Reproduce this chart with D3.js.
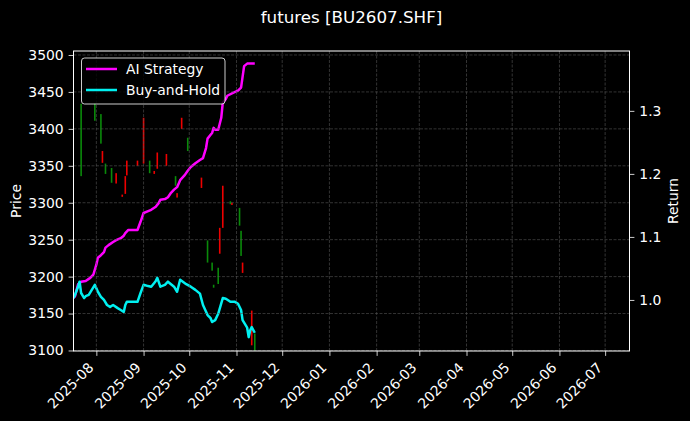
<!DOCTYPE html>
<html>
<head>
<meta charset="utf-8">
<script src="https://cdn.jsdelivr.net/npm/d3@7"></script>
<style>
  body { margin: 0; background: #000; }
  svg { display: block; }
  text { font-family: "DejaVu Sans", sans-serif; fill: #fff; }
</style>
</head>
<body>
<svg id="chart"></svg>
<script>
// candles (price axis)
var candleDates = ['2025-07-22','2025-07-31','2025-08-04','2025-08-05','2025-08-07','2025-08-11','2025-08-14',
  '2025-08-18','2025-08-20','2025-08-21','2025-08-28','2025-09-01','2025-09-05','2025-09-08','2025-09-10',
  '2025-09-16','2025-09-22','2025-09-23','2025-09-26','2025-09-30','2025-10-09','2025-10-13','2025-10-16',
  '2025-10-17','2025-10-20','2025-10-21','2025-10-23','2025-10-28','2025-10-29','2025-11-03','2025-11-04',
  '2025-11-05','2025-11-11','2025-11-13']
var candleOpen = [3336,3411,3380,3370,3339,3327,3340,3311,3336,3357,3357,3415,3340,3343,3368,
  3366,3323,3313,3415,3370,3334,3219,3208,3185,3190,3266,3323,3298,3300,3269,3228,3219,3154,3093]
var candleClose = [3434,3435,3420,3354,3353,3347,3326,3308,3312,3337,3350,3353,3357,3339,3346,
  3350,3336,3307,3400,3388,3320,3249,3219,3189,3212,3231,3266,3302,3297,3293,3262,3205,3107,3123]

// strategy curves (return axis)
var aiDates = ['2025-07-17','2025-07-18','2025-07-20','2025-07-22','2025-07-25','2025-07-28','2025-07-30',
  '2025-08-01','2025-08-02','2025-08-04','2025-08-06','2025-08-07','2025-08-09','2025-08-12','2025-08-14',
  '2025-08-17','2025-08-19','2025-08-20','2025-08-22','2025-08-25','2025-08-28','2025-08-30','2025-09-01',
  '2025-09-04','2025-09-06','2025-09-09','2025-09-11','2025-09-12','2025-09-15','2025-09-17','2025-09-19',
  '2025-09-21','2025-09-23','2025-09-25','2025-09-28','2025-09-30','2025-10-02','2025-10-05','2025-10-08',
  '2025-10-10','2025-10-12','2025-10-13','2025-10-15','2025-10-16','2025-10-17','2025-10-18','2025-10-20',
  '2025-10-22','2025-10-23','2025-10-25','2025-10-26','2025-10-30','2025-11-02','2025-11-04','2025-11-06',
  '2025-11-08','2025-11-13']
var aiValues = [1.003,1.006,1.025,1.029,1.030,1.035,1.040,1.056,1.067,1.071,1.076,1.083,1.087,1.092,1.095,
  1.098,1.102,1.106,1.111,1.111,1.111,1.124,1.138,1.141,1.143,1.148,1.154,1.159,1.160,1.163,1.170,
  1.175,1.179,1.190,1.198,1.205,1.211,1.217,1.222,1.225,1.241,1.256,1.262,1.265,1.273,1.270,1.270,
  1.289,1.313,1.319,1.324,1.329,1.332,1.337,1.371,1.375,1.375]

var bhDates = ['2025-07-17','2025-07-18','2025-07-20','2025-07-21','2025-07-22','2025-07-24','2025-07-25',
  '2025-07-27','2025-07-29','2025-07-31','2025-08-02','2025-08-04','2025-08-06','2025-08-08','2025-08-10',
  '2025-08-12','2025-08-15','2025-08-17','2025-08-19','2025-08-20','2025-08-21','2025-08-25','2025-08-28',
  '2025-08-30','2025-09-01','2025-09-04','2025-09-06','2025-09-08','2025-09-09','2025-09-10','2025-09-12',
  '2025-09-15','2025-09-17','2025-09-19','2025-09-21','2025-09-23','2025-09-25','2025-09-29','2025-10-02',
  '2025-10-05','2025-10-08','2025-10-10','2025-10-13','2025-10-15','2025-10-16','2025-10-18','2025-10-20',
  '2025-10-23','2025-10-25','2025-10-28','2025-10-31','2025-11-02','2025-11-04','2025-11-05','2025-11-08',
  '2025-11-09','2025-11-10','2025-11-11','2025-11-13']
var bhValues = [1.003,1.008,1.021,1.029,1.011,1.003,1.006,1.008,1.016,1.024,1.013,1.005,1.000,0.992,0.989,
  0.992,0.987,0.984,0.981,0.992,0.997,0.997,0.997,1.011,1.024,1.022,1.021,1.027,1.030,1.035,1.021,
  1.024,1.029,1.025,1.021,1.013,1.032,1.025,1.021,1.016,1.010,0.992,0.976,0.971,0.965,0.968,0.978,
  1.003,1.002,0.997,0.997,0.994,0.984,0.968,0.956,0.941,0.952,0.957,0.948]

var priceTicks = [3100,3150,3200,3250,3300,3350,3400,3450,3500]
var returnTicks = [1.0,1.1,1.2,1.3]
var monthTicks = ['2025-08','2025-09','2025-10','2025-11','2025-12','2026-01','2026-02',
  '2026-03','2026-04','2026-05','2026-06','2026-07']

var W = 690, H = 421
var pLeft = 73.5, pRight = 629.5, pTop = 51, pBottom = 351
var parse = d3.timeParse('%Y-%m-%d')
var parseMonth = d3.timeParse('%Y-%m')

var svg = d3.select('#chart').attr('width', W).attr('height', H)
svg.append('rect').attr('width', W).attr('height', H).attr('fill', '#000')

var x = d3.scaleTime()
    .domain([parse('2025-07-17'), parse('2026-07-17')])
    .range([pLeft, pRight])
var yPrice = d3.scaleLinear().domain([3099.3, 3505.4]).range([pBottom, pTop])
var yRet = d3.scaleLinear().domain([0.919, 1.395]).range([pBottom, pTop])

svg.append('clipPath').attr('id', 'plotclip')
  .append('rect').attr('x', pLeft).attr('y', pTop)
  .attr('width', pRight - pLeft).attr('height', pBottom - pTop)

var plot = svg.append('g').attr('clip-path', 'url(#plotclip)')

// candles
var candles = candleDates.map(function (d, i) {
  return { date: parse(d), open: candleOpen[i], close: candleClose[i] }
})
plot.selectAll('rect.candle')
    .data(candles)
  .enter().append('rect')
    .attr('class', 'candle')
    .attr('x', function (d) { return x(d.date) - 0.8 })
    .attr('width', 1.6)
    .attr('y', function (d) { return yPrice(Math.max(d.open, d.close)) })
    .attr('height', function (d) { return Math.abs(yPrice(d.open) - yPrice(d.close)) })
    .attr('fill', function (d) { return d.close >= d.open ? '#0a8a0a' : '#ee0000' })

// grid
var grid = svg.append('g')
grid.selectAll('line.vg')
    .data(monthTicks)
  .enter().append('line')
    .attr('x1', function (d) { return x(parseMonth(d)) })
    .attr('x2', function (d) { return x(parseMonth(d)) })
    .attr('y1', pTop).attr('y2', pBottom)
grid.selectAll('line.hg')
    .data(priceTicks)
  .enter().append('line')
    .attr('x1', pLeft).attr('x2', pRight)
    .attr('y1', function (d) { return yPrice(d) })
    .attr('y2', function (d) { return yPrice(d) })
grid.selectAll('line')
    .attr('stroke', '#555')
    .attr('stroke-width', 0.6)
    .attr('stroke-dasharray', '3,1.5')

// lines
var line = d3.line()
    .x(function (d) { return x(d.date) })
    .y(function (d) { return yRet(d.v) })

var aiData = aiDates.map(function (d, i) { return { date: parse(d), v: aiValues[i] } })
var bhData = bhDates.map(function (d, i) { return { date: parse(d), v: bhValues[i] } })

plot.append('path').datum(aiData)
    .attr('d', line).attr('fill', 'none')
    .attr('stroke', '#ff00ff').attr('stroke-width', 2.5)
    .attr('stroke-linejoin', 'round')
plot.append('path').datum(bhData)
    .attr('d', line).attr('fill', 'none')
    .attr('stroke', '#00f0f0').attr('stroke-width', 2.5)
    .attr('stroke-linejoin', 'round')

// axes
var fs = '13.9px'
var gx = svg.append('g').attr('transform', 'translate(0,' + pBottom + ')')
    .call(d3.axisBottom(x)
      .tickValues(monthTicks.map(parseMonth))
      .tickFormat(d3.timeFormat('%Y-%m'))
      .tickSize(4.9).tickPadding(4.9))
gx.selectAll('.tick text')
    .attr('text-anchor', 'end')
    .attr('y', null).attr('dy', null)
    .attr('transform', 'translate(-2.3,17.5) rotate(-45)')

var gl = svg.append('g').attr('transform', 'translate(' + pLeft + ',0)')
    .call(d3.axisLeft(yPrice).tickValues(priceTicks).tickFormat(d3.format('d'))
      .tickSize(4.9).tickPadding(4.9))
var gr = svg.append('g').attr('transform', 'translate(' + pRight + ',0)')
    .call(d3.axisRight(yRet).tickValues(returnTicks).tickFormat(d3.format('.1f'))
      .tickSize(4.9).tickPadding(4.9))

;[gx, gl, gr].forEach(function (g) {
  g.selectAll('.domain').remove()
  g.selectAll('.tick line').attr('stroke', '#fff').attr('stroke-width', 0.8)
  g.selectAll('.tick text').style('font-size', fs).attr('fill', '#fff')
    .style('font-family', '"DejaVu Sans", sans-serif')
})

// frame
svg.append('rect')
    .attr('x', pLeft).attr('y', pTop)
    .attr('width', pRight - pLeft).attr('height', pBottom - pTop)
    .attr('fill', 'none').attr('stroke', '#fff').attr('stroke-width', 1)

// labels
svg.append('text')
    .attr('x', 351.5).attr('y', 23)
    .attr('text-anchor', 'middle')
    .style('font-size', '16.7px')
    .text('futures [BU2607.SHF]')
svg.append('text')
    .attr('transform', 'translate(21,' + ((pTop + pBottom) / 2) + ') rotate(-90)')
    .attr('text-anchor', 'middle')
    .style('font-size', fs)
    .text('Price')
svg.append('text')
    .attr('transform', 'translate(678,' + ((pTop + pBottom) / 2) + ') rotate(-90)')
    .attr('text-anchor', 'middle')
    .style('font-size', fs)
    .text('Return')

// legend
var legendNames = ['AI Strategy', 'Buy-and-Hold']
var legendColors = ['#ff00ff', '#00f0f0']
var lg = svg.append('g')
lg.append('rect')
    .attr('x', 81.5).attr('y', 58).attr('width', 143.5).attr('height', 46)
    .attr('rx', 3)
    .attr('fill', '#000').attr('fill-opacity', 0.8)
    .attr('stroke', '#fff').attr('stroke-opacity', 0.8).attr('stroke-width', 1)
var items = lg.selectAll('g.item')
    .data(legendNames)
  .enter().append('g')
    .attr('transform', function (d, i) { return 'translate(0,' + (69 + i * 21) + ')' })
items.append('line')
    .attr('x1', 86).attr('x2', 117).attr('y1', 0).attr('y2', 0)
    .attr('stroke', function (d, i) { return legendColors[i] })
    .attr('stroke-width', 2.5)
items.append('text')
    .attr('x', 126).attr('y', 5)
    .style('font-size', fs)
    .text(function (d) { return d })
</script>
</body>
</html>
